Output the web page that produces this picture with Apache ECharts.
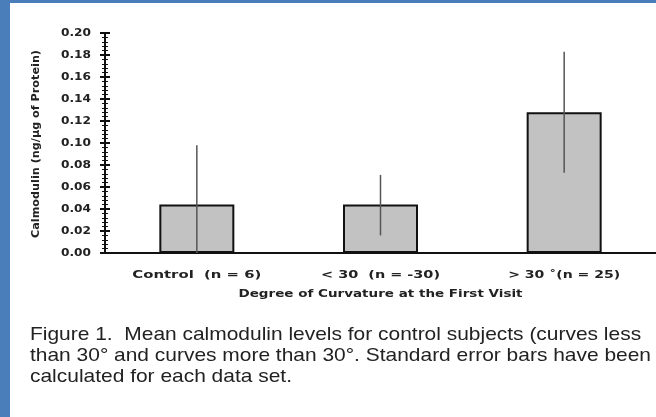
<!DOCTYPE html>
<html>
<head>
<meta charset="utf-8">
<script src="https://cdn.jsdelivr.net/npm/echarts@6/dist/echarts.min.js"></script>
<style>
  html, body { margin: 0; padding: 0; background: #4a7ebb; }
  #frame { position: absolute; left: 10px; top: 3px; right: 0; bottom: 0; background: #fff; }
  #chart { position: absolute; left: 0; top: 0; width: 656px; height: 417px; }
</style>
</head>
<body>
<div id="frame"></div>
<div id="chart"></div>
<script>
// Mean calmodulin by curvature group, with standard error ranges
const categories = ['Control  (n = 6)', '< 30  (n = -30)', '> 30 \u02DA(n = 25)'];
const meanValues = [0.044, 0.044, 0.128];
const errLow = [0.0, 0.016, 0.073];
const errHigh = [0.098, 0.071, 0.183];
const yTickValues = [0, 0.02, 0.04, 0.06, 0.08, 0.1, 0.12, 0.14, 0.16, 0.18, 0.2];
const yTickLabels = ['0.00', '0.02', '0.04', '0.06', '0.08', '0.10', '0.12', '0.14', '0.16', '0.18', '0.20'];
const xTitle = 'Degree of Curvature at the First Visit';
const yTitle = 'Calmodulin (ng/\u03BCg of Protein)';
const caption = [
  'Figure 1.  Mean calmodulin levels for control subjects (curves less',
  'than 30\u00B0 and curves more than 30\u00B0. Standard error bars have been',
  'calculated for each data set.'
];

const AXIS_FONT = 'DejaVu Sans';
const CAPTION_FONT = 'Liberation Sans';
const INK = '#222';

// canvas text width, used to stretch the widely tracked typewriter-style labels
const measureCtx = document.createElement('canvas').getContext('2d');
function textWidth(text, size, weight, family) {
  measureCtx.font = weight + ' ' + size + 'px "' + family + '"';
  return measureCtx.measureText(text).width;
}

const chart = echarts.init(document.getElementById('chart'), null, { renderer: 'canvas' });

chart.setOption({
  backgroundColor: 'transparent',
  animation: false,
  grid: { left: 105, top: 33, width: 552, height: 220, containLabel: false },
  xAxis: {
    type: 'category',
    data: categories,
    axisLine: { lineStyle: { color: '#111', width: 2 } },
    axisTick: { show: false },
    axisLabel: { show: false }
  },
  yAxis: [
    {
      type: 'value',
      min: 0, max: 0.2, interval: 0.02,
      axisLine: { show: true, lineStyle: { color: '#111', width: 2 } },
      axisTick: { show: true, length: 5, lineStyle: { color: '#111', width: 2 } },
      minorTick: { show: true, splitNumber: 5, length: 3, lineStyle: { color: '#111', width: 1 } },
      splitLine: { show: false },
      axisLabel: { show: false }
    },
    {
      // same scale, ticks drawn on the inner side so they cross the axis line
      type: 'value',
      min: 0, max: 0.2, interval: 0.02,
      position: 'left',
      axisLine: { show: false },
      axisTick: { show: true, inside: true, length: 5, lineStyle: { color: '#111', width: 2 } },
      minorTick: { show: true, splitNumber: 5, length: 3, lineStyle: { color: '#111', width: 1 } },
      splitLine: { show: false },
      axisLabel: { show: false }
    }
  ],
  series: [
    {
      type: 'bar',
      data: meanValues,
      barWidth: 75,
      itemStyle: { color: '#c2c2c2', borderColor: '#111', borderWidth: 2 }
    },
    {
      type: 'custom',
      data: categories.map(function (c, i) { return [i, errLow[i], errHigh[i]]; }),
      z: 10,
      renderItem: function (params, api) {
        const lo = api.coord([api.value(0), api.value(1)]);
        const hi = api.coord([api.value(0), api.value(2)]);
        return {
          type: 'line',
          shape: { x1: lo[0], y1: lo[1], x2: hi[0], y2: hi[1] },
          style: { stroke: '#555', lineWidth: 1.5 }
        };
      }
    }
  ]
});

// Tracked (letter-spaced) axis text, placed from the axis scales
const graphics = [];
const catWidths = [129, 119, 112];
const axisY = chart.convertToPixel({ yAxisIndex: 0 }, 0);

categories.forEach(function (label, i) {
  const cx = chart.convertToPixel({ xAxisIndex: 0 }, i);
  const w = textWidth(label, 10, 'bold', AXIS_FONT);
  graphics.push({
    type: 'text', x: cx, y: axisY + 22, scaleX: catWidths[i] / w,
    style: { text: label, font: 'bold 10px "' + AXIS_FONT + '"', fill: INK, align: 'center', verticalAlign: 'middle' }
  });
});

const xMid = chart.convertToPixel({ xAxisIndex: 0 }, 1);
graphics.push({
  type: 'text', x: xMid, y: axisY + 41, scaleX: 284 / textWidth(xTitle, 10, 'bold', AXIS_FONT),
  style: { text: xTitle, font: 'bold 10px "' + AXIS_FONT + '"', fill: INK, align: 'center', verticalAlign: 'middle' }
});

yTickValues.forEach(function (v, i) {
  const py = chart.convertToPixel({ yAxisIndex: 0 }, v);
  const w = textWidth(yTickLabels[i], 10, 'bold', AXIS_FONT);
  graphics.push({
    type: 'text', x: 91, y: py, scaleX: 30 / w,
    style: { text: yTickLabels[i], font: 'bold 10px "' + AXIS_FONT + '"', fill: INK, align: 'right', verticalAlign: 'middle' }
  });
});

const yMid = (chart.convertToPixel({ yAxisIndex: 0 }, 0) + chart.convertToPixel({ yAxisIndex: 0 }, 0.2)) / 2;
graphics.push({
  type: 'text', x: 36, y: yMid + 1, rotation: Math.PI / 2,
  scaleX: 188 / textWidth(yTitle, 10, 'bold', AXIS_FONT),
  style: { text: yTitle, font: 'bold 10px "' + AXIS_FONT + '"', fill: INK, align: 'center', verticalAlign: 'middle' }
});

// Figure caption in a condensed face
const capScale = 621 / textWidth(caption[1], 19, 'normal', CAPTION_FONT);
caption.forEach(function (line, i) {
  graphics.push({
    type: 'text', x: 30, y: 335 + i * 21, scaleX: capScale,
    style: { text: line, font: '19px "' + CAPTION_FONT + '"', fill: INK, align: 'left', verticalAlign: 'middle' }
  });
});

chart.setOption({ graphic: graphics });
</script>
</body>
</html>
